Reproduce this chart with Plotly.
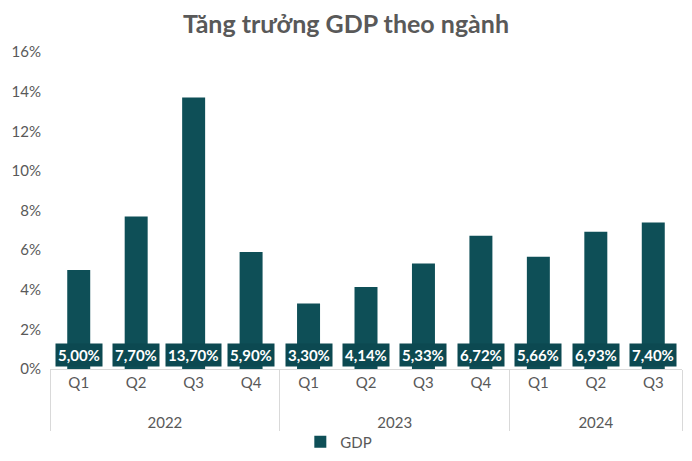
import plotly.graph_objects as go

years = ["2022"] * 4 + ["2023"] * 4 + ["2024"] * 3
quarters = ["Q1", "Q2", "Q3", "Q4", "Q1", "Q2", "Q3", "Q4", "Q1", "Q2", "Q3"]
gdp = [5.00, 7.70, 13.70, 5.90, 3.30, 4.14, 5.33, 6.72, 5.66, 6.93, 7.40]
y_ticks = [0, 2, 4, 6, 8, 10, 12, 14, 16]

BAR = "#0E4F57"
GRAY = "#595959"
LINE = "#D9D9D9"
FONT = "Lato, 'Open Sans', sans-serif"

year_lbl = ["<br>" + y for y in years]

fig = go.Figure()
fig.add_trace(go.Bar(
    x=[year_lbl, quarters], y=gdp, name="GDP",
    marker=dict(color=BAR, line=dict(width=0)),
    width=0.4,
))

for i, v in enumerate(gdp):
    fig.add_annotation(
        x=i, y=0.7, xref="x2", yref="y",
        text="<b>" + f"{v:.2f}".replace(".", ",") + "%</b>",
        showarrow=False, bgcolor="#0C4951",
        font=dict(family=FONT, size=15, color="white"),
        borderpad=2,
    )

fig.update_layout(
    width=692, height=461,
    margin=dict(l=50, r=10, t=52, b=92, autoexpand=False),
    paper_bgcolor="white", plot_bgcolor="white",
    font=dict(family=FONT, color=GRAY, size=15),
    title=dict(text="<b>Tăng trưởng GDP theo ngành</b>", x=0.5, xanchor="center",
               y=0.947, yanchor="middle", font=dict(family=FONT, size=25, color=GRAY)),
    showlegend=True,
    legend=dict(orientation="h", x=0.457, xanchor="center", y=-0.23, yanchor="middle",
                itemwidth=30, font=dict(family=FONT, size=15, color=GRAY)),
    xaxis=dict(
        type="multicategory", showgrid=False, showline=True, linecolor=LINE,
        ticks="", dividercolor=LINE, dividerwidth=1, automargin=False,
        tickfont=dict(family=FONT, size=15, color=GRAY),
    ),
    xaxis2=dict(overlaying="x", range=[-0.5, 10.5], visible=False),
    yaxis=dict(
        range=[0, 16], tickvals=y_ticks, ticktext=[f"{t}%" for t in y_ticks],
        showgrid=False, zeroline=False, showline=False, ticks="",
        ticklabelstandoff=8, automargin=False,
        tickfont=dict(family=FONT, size=15, color=GRAY),
    ),
)

fig.write_html("out.html")
